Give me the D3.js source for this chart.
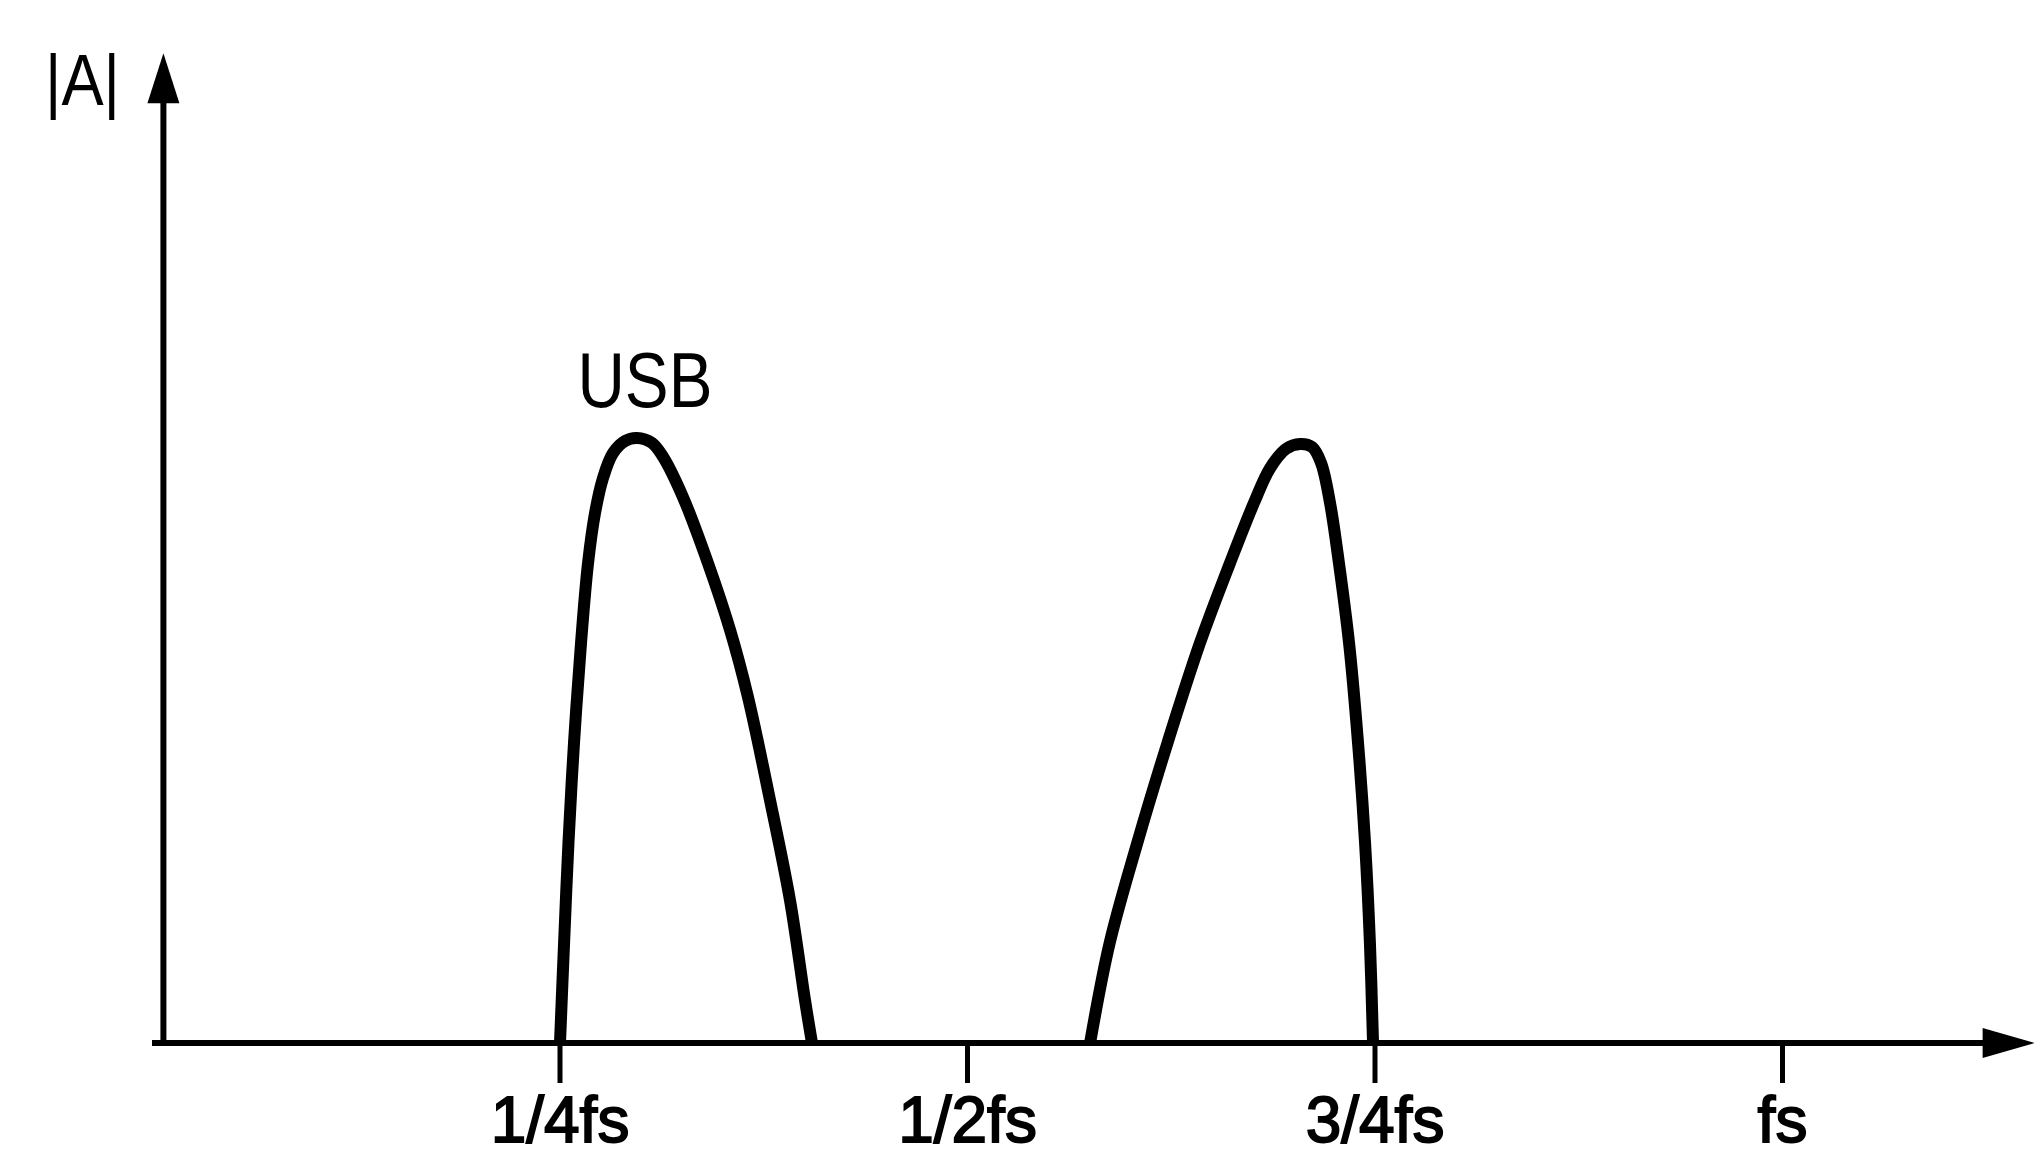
<!DOCTYPE html>
<html>
<head>
<meta charset="utf-8">
<script src="https://cdn.jsdelivr.net/npm/d3@7"></script>
<style>
  body { margin: 0; background: #fff; }
  svg { display: block; }
  text { font-family: "Liberation Sans", Arial, sans-serif; fill: #000; }
</style>
</head>
<body>
<div id="chart"></div>
<script>
// frequency in units of fs, amplitude normalised to the USB peak
const tickValues = [0.25, 0.5, 0.75, 1];
const tickLabels = ['1/4fs', '1/2fs', '3/4fs', 'fs'];

const usbFreq = [0.2503, 0.2528, 0.2555, 0.2589, 0.2632, 0.2675, 0.2718, 0.2767, 0.2828, 0.2902, 0.2975,
  0.3067, 0.3135, 0.3258, 0.3411, 0.3546, 0.3656, 0.3791, 0.3914, 0.4006, 0.4049];
const usbAmp = [0, 0.165, 0.331, 0.496, 0.661, 0.793, 0.876, 0.934, 0.975, 0.995, 1.0,
  0.992, 0.969, 0.902, 0.793, 0.683, 0.572, 0.402, 0.236, 0.071, 0];

const imageFreq = [0.5755, 0.5875, 0.6045, 0.6230, 0.6429, 0.6613, 0.6761, 0.6859, 0.6957, 0.7043,
  0.7117, 0.7172, 0.7227, 0.7282, 0.7344, 0.7399, 0.7442, 0.7472, 0.7491];
const imageAmp = [0, 0.165, 0.331, 0.496, 0.661, 0.793, 0.893, 0.950, 0.982, 0.990,
  0.985, 0.959, 0.893, 0.793, 0.661, 0.496, 0.331, 0.165, 0];

const width = 2039, height = 1157;

const x = d3.scaleLinear().domain([0, 1]).range([152, 1782]);
const y = d3.scaleLinear().domain([0, 1]).range([1043, 438]);

const svg = d3.select('#chart')
  .append('svg')
  .attr('width', width)
  .attr('height', height);

// axes with arrow heads
const xEnd = 1.155, yEnd = 1.636, yAxisAt = 0.007;
const g = svg.append('g');

g.append('line')
  .attr('x1', x(0)).attr('x2', x(xEnd) - 40)
  .attr('y1', y(0)).attr('y2', y(0))
  .attr('stroke', '#000').attr('stroke-width', 6);
g.append('path')
  .attr('d', `M${x(xEnd)},${y(0)} L${x(xEnd) - 52},${y(0) - 15} L${x(xEnd) - 52},${y(0) + 15} Z`)
  .attr('fill', '#000');

g.append('line')
  .attr('x1', x(yAxisAt)).attr('x2', x(yAxisAt))
  .attr('y1', y(0) + 3).attr('y2', y(yEnd) + 40)
  .attr('stroke', '#000').attr('stroke-width', 6);
g.append('path')
  .attr('d', `M${x(yAxisAt)},${y(yEnd)} L${x(yAxisAt) - 16},${y(yEnd) + 50} L${x(yAxisAt) + 16},${y(yEnd) + 50} Z`)
  .attr('fill', '#000');

// ticks + labels
const xAxis = d3.axisBottom(x)
  .tickValues(tickValues)
  .tickFormat((d, i) => tickLabels[i])
  .tickSize(40)
  .tickPadding(14);

const ax = svg.append('g')
  .attr('transform', `translate(0,${y(0)})`)
  .call(xAxis);
ax.select('.domain').remove();
ax.selectAll('.tick line').attr('stroke', '#000').attr('stroke-width', 5);
ax.selectAll('.tick text')
  .attr('font-family', '"Liberation Sans", Arial, sans-serif')
  .attr('font-size', 64)
  .attr('fill', '#000')
  .attr('stroke', '#000')
  .attr('stroke-width', 1.8);

// spectrum bands
const line = d3.line()
  .x(d => x(d[0]))
  .y(d => y(d[1]))
  .curve(d3.curveCatmullRom.alpha(0.5));

const bands = [
  d3.zip(usbFreq, usbAmp),
  d3.zip(imageFreq, imageAmp)
];

svg.selectAll('.band')
  .data(bands)
  .enter()
  .append('path')
  .attr('class', 'band')
  .attr('d', line)
  .attr('fill', 'none')
  .attr('stroke', '#000')
  .attr('stroke-width', 12)
  .attr('stroke-linejoin', 'round');

// labels
svg.append('text')
  .attr('x', x(0.2975) + 8)
  .attr('y', y(1) - 31)
  .attr('text-anchor', 'middle')
  .attr('font-size', 77)
  .attr('textLength', 135)
  .attr('lengthAdjust', 'spacingAndGlyphs')
  .text('USB');

svg.append('text')
  .attr('x', 45)
  .attr('y', 105)
  .attr('font-size', 72)
  .attr('textLength', 75)
  .attr('lengthAdjust', 'spacingAndGlyphs')
  .text('|A|');
</script>
</body>
</html>
